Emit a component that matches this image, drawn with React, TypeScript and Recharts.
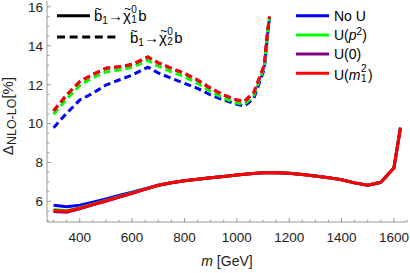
import React from "react";
import { LineChart, Line, XAxis, YAxis, Label } from "recharts";

// sbottom mass grid for the chi1 (solid) and chi2 (dashed) channels
const massChi1 = [300, 350, 400, 450, 500, 550, 600, 650, 700, 750, 800, 850, 900, 950, 1000, 1050, 1100, 1150, 1200, 1250, 1300, 1350, 1400, 1450, 1500, 1550, 1600, 1625];
const noUChi1 = [5.8, 5.72, 5.8, 5.96, 6.12, 6.3, 6.47, 6.65, 6.83, 6.96, 7.06, 7.14, 7.21, 7.28, 7.35, 7.42, 7.47, 7.47, 7.44, 7.38, 7.31, 7.22, 7.11, 6.95, 6.83, 6.98, 7.72, 9.78];
const up2Chi1 = [5.58, 5.52, 5.67, 5.86, 6.05, 6.24, 6.43, 6.63, 6.83, 6.96, 7.06, 7.14, 7.21, 7.28, 7.35, 7.42, 7.47, 7.47, 7.44, 7.38, 7.31, 7.22, 7.11, 6.95, 6.83, 6.98, 7.72, 9.78];
const u0Chi1 = [5.48, 5.44, 5.62, 5.82, 6.01, 6.21, 6.41, 6.62, 6.83, 6.96, 7.06, 7.14, 7.21, 7.28, 7.35, 7.42, 7.47, 7.47, 7.44, 7.38, 7.31, 7.22, 7.11, 6.95, 6.83, 6.98, 7.72, 9.78];
const um1Chi1 = [5.53, 5.49, 5.65, 5.84, 6.03, 6.23, 6.42, 6.63, 6.83, 6.96, 7.06, 7.14, 7.21, 7.28, 7.35, 7.42, 7.47, 7.47, 7.44, 7.38, 7.31, 7.22, 7.11, 6.95, 6.83, 6.98, 7.72, 9.78];

const massChi2 = [300, 350, 400, 450, 500, 550, 600, 660, 700, 750, 800, 850, 900, 950, 1000, 1030, 1065, 1085, 1105, 1117, 1125];
const noUChi2 = [9.79, 10.53, 11.21, 11.56, 11.98, 12.24, 12.49, 12.9, 12.6, 12.33, 12.07, 11.81, 11.47, 11.21, 10.99, 10.9, 11.3, 12.05, 12.8, 14.5, 15.4];
const up2Chi2 = [10.48, 11.26, 11.95, 12.36, 12.66, 12.75, 12.89, 13.25, 12.95, 12.66, 12.41, 12.07, 11.64, 11.3, 11.05, 11.0, 11.45, 12.2, 12.9, 14.6, 15.45];
const u0Chi2 = [10.65, 11.47, 12.15, 12.53, 12.84, 12.92, 13.04, 13.42, 13.12, 12.84, 12.58, 12.24, 11.81, 11.47, 11.21, 11.15, 11.6, 12.3, 13.0, 14.7, 15.5];
const um1Chi2 = [10.65, 11.47, 12.15, 12.53, 12.84, 12.92, 13.04, 13.42, 13.12, 12.84, 12.58, 12.24, 11.81, 11.47, 11.21, 11.15, 11.6, 12.3, 13.0, 14.7, 15.5];

const xMajor = [400, 600, 800, 1000, 1200, 1400, 1600];
const yMajor = [6, 8, 10, 12, 14, 16];

const xTicks: number[] = [];
for (let v = 300; v <= 1650; v += 50) xTicks.push(v);
const yTicks: number[] = [];
for (let v = 5; v <= 16; v += 0.5) yTicks.push(v);

const BLUE = "#0000ff";
const GREEN = "#00ff00";
const PURPLE = "#800080";
const RED = "#ff0000";
const FRAME = "#999999";
const FONT = "'Liberation Sans', Arial, sans-serif";

const toPoints = (ms: number[], vs: number[]) => ms.map((m, i) => ({ m, v: vs[i] }));

const series = [
  { name: "No U", color: BLUE, chi1: noUChi1, chi2: noUChi2 },
  { name: "U(p2)", color: GREEN, chi1: up2Chi1, chi2: up2Chi2 },
  { name: "U(0)", color: PURPLE, chi1: u0Chi1, chi2: u0Chi2 },
  { name: "U(m12)", color: RED, chi1: um1Chi1, chi2: um1Chi2 },
];

const tickLen = (major: boolean) => (major ? 4 : 2.3);

const BottomTick = (props: any) => {
  const { x, y, payload } = props;
  const major = xMajor.includes(payload.value);
  return (
    <g>
      <line x1={x} x2={x} y1={y} y2={y - tickLen(major)} stroke={FRAME} />
      {major && (
        <text x={x} y={y + 20} textAnchor="middle" fontSize={13.5} fontFamily={FONT} fill="#222">
          {payload.value}
        </text>
      )}
    </g>
  );
};

const TopTick = (props: any) => {
  const { x, y, payload } = props;
  const major = xMajor.includes(payload.value);
  return <line x1={x} x2={x} y1={y} y2={y + tickLen(major)} stroke={FRAME} />;
};

const LeftTick = (props: any) => {
  const { x, y, payload } = props;
  const major = yMajor.includes(payload.value);
  return (
    <g>
      <line x1={x} x2={x + tickLen(major)} y1={y} y2={y} stroke={FRAME} />
      {major && (
        <text x={x - 4} y={y} dy="0.36em" textAnchor="end" fontSize={13.5} fontFamily={FONT} fill="#222">
          {payload.value}
        </text>
      )}
    </g>
  );
};

const RightTick = (props: any) => {
  const { x, y, payload } = props;
  const major = yMajor.includes(payload.value);
  return <line x1={x} x2={x - tickLen(major)} y1={y} y2={y} stroke={FRAME} />;
};

// superscript over subscript, stacked (parent font px given as base)
const Stack = ({ sup, sub, base, size = 10 }: { sup: string; sub: string; base: number; size?: number }) => (
  <span style={{ position: "relative", display: "inline-block", width: size * 0.6, height: base, marginLeft: 0.5, marginRight: 1 }}>
    <span style={{ position: "absolute", left: 0, top: base - 16, fontSize: size, lineHeight: 1 }}>{sup}</span>
    <span style={{ position: "absolute", left: 0, top: base - 6, fontSize: size, lineHeight: 1 }}>{sub}</span>
  </span>
);

// letter with a tilde drawn over it
const Tilde = ({ ch, shift = 0 }: { ch: string; shift?: number }) => (
  <span style={{ position: "relative", display: "inline-block" }}>
    {ch}
    <span style={{ position: "absolute", left: shift, right: -shift, top: "-0.42em", textAlign: "center", fontSize: "0.8em" }}>~</span>
  </span>
);

const legendText: React.CSSProperties = {
  position: "absolute",
  fontFamily: FONT,
  color: "#000",
  whiteSpace: "nowrap",
  lineHeight: 1,
};

export default function App() {
  return (
    <div style={{ position: "absolute", left: 0, top: 0, width: 410, height: 273, background: "#fff" }}>
      <LineChart width={410} height={273} margin={{ top: 1, right: 3, bottom: 21, left: 0 }}>
        <XAxis
          xAxisId="b"
          dataKey="m"
          type="number"
          domain={[275, 1650]}
          ticks={xTicks}
          interval={0}
          tickSize={0}
          tickMargin={0}
          height={30}
          axisLine={{ stroke: FRAME }}
          tickLine={false}
          tick={<BottomTick />}
        >
          <Label
            content={() => (
              <text x={227} y={266} textAnchor="middle" fontSize={14} fontFamily={FONT} fill="#222">
                <tspan fontStyle="italic">m</tspan> [GeV]
              </text>
            )}
          />
        </XAxis>
        <XAxis
          xAxisId="t"
          orientation="top"
          dataKey="m"
          type="number"
          domain={[275, 1650]}
          ticks={xTicks}
          interval={0}
          tickSize={0}
          tickMargin={0}
          height={0}
          axisLine={{ stroke: FRAME }}
          tickLine={false}
          tick={<TopTick />}
        />
        <YAxis
          yAxisId="l"
          type="number"
          domain={[4.94, 16.3]}
          ticks={yTicks}
          interval={0}
          tickSize={0}
          tickMargin={0}
          width={47}
          axisLine={{ stroke: FRAME }}
          tickLine={false}
          tick={<LeftTick />}
        >
          <Label
            content={() => (
              <text transform="translate(13,116) rotate(-90)" textAnchor="middle" fontSize={15} fontFamily={FONT} fill="#222">
                Δ
                <tspan fontSize={12.5} dy={3}>
                  NLO-LO
                </tspan>
                <tspan dy={-3}>[%]</tspan>
              </text>
            )}
          />
        </YAxis>
        <YAxis
          yAxisId="r"
          orientation="right"
          type="number"
          domain={[4.94, 16.3]}
          ticks={yTicks}
          interval={0}
          tickSize={0}
          tickMargin={0}
          width={0}
          axisLine={{ stroke: FRAME }}
          tickLine={false}
          tick={<RightTick />}
        />
        {series.map((s) => (
          <Line
            key={`d-${s.name}`}
            xAxisId="b"
            yAxisId="l"
            data={toPoints(massChi2, s.chi2)}
            dataKey="v"
            type="linear"
            stroke={s.color}
            strokeWidth={3}
            strokeDasharray="7 4"
            dot={false}
            activeDot={false}
            isAnimationActive={false}
          />
        ))}
        {series.map((s) => (
          <Line
            key={`s-${s.name}`}
            xAxisId="b"
            yAxisId="l"
            data={toPoints(massChi1, s.chi1)}
            dataKey="v"
            type="linear"
            stroke={s.color}
            strokeWidth={3}
            dot={false}
            activeDot={false}
            isAnimationActive={false}
          />
        ))}
      </LineChart>

      <svg width={410} height={273} style={{ position: "absolute", left: 0, top: 0, pointerEvents: "none" }}>
        <line x1={57} x2={90} y1={15.7} y2={15.7} stroke="#000" strokeWidth={3} />
        <line x1={57} x2={119} y1={37} y2={37} stroke="#000" strokeWidth={3} strokeDasharray="8 4.6" />
        {series.map((s, i) => (
          <line key={s.name} x1={296} x2={329} y1={15.7 + i * 19.2} y2={15.7 + i * 19.2} stroke={s.color} strokeWidth={3} />
        ))}
      </svg>

      <div style={{ ...legendText, left: 94, top: 6, fontSize: 15 }}>
        <Tilde ch="b" />
        <span style={{ fontSize: 10, position: "relative", top: 3 }}>1</span>→<Tilde ch="χ" shift={1} />
        <Stack sup="0" sub="1" base={15} />b
      </div>
      <div style={{ ...legendText, left: 130, top: 28, fontSize: 15 }}>
        <Tilde ch="b" />
        <span style={{ fontSize: 10, position: "relative", top: 3 }}>1</span>→<Tilde ch="χ" shift={1} />
        <Stack sup="0" sub="2" base={15} />b
      </div>

      <div style={{ ...legendText, left: 334, top: 8.5, fontSize: 14 }}>No U</div>
      <div style={{ ...legendText, left: 334, top: 27.7, fontSize: 14 }}>
        U(<i>p</i>
        <span style={{ fontSize: 10, position: "relative", top: -5 }}>2</span>)
      </div>
      <div style={{ ...legendText, left: 334, top: 46.9, fontSize: 14 }}>U(0)</div>
      <div style={{ ...legendText, left: 334, top: 66.1, fontSize: 14 }}>
        U(<i>m</i>
        <Stack sup="2" sub="1" base={14} />)
      </div>
    </div>
  );
}
